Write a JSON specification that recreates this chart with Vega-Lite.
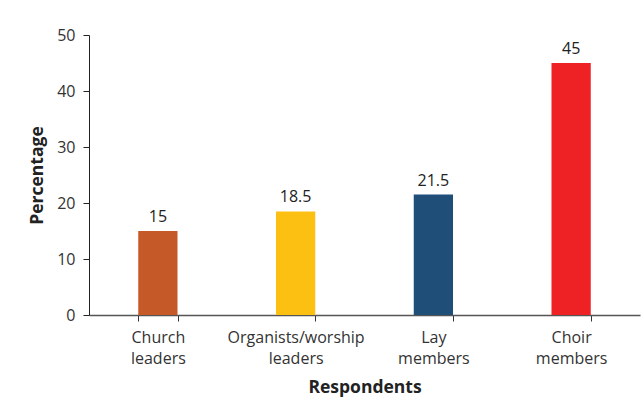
{
  "$schema": "https://vega.github.io/schema/vega-lite/v6.json",
  "width": 551,
  "height": 280,
  "autosize": {"type": "none"},
  "padding": {"left": 89, "top": 35, "right": 3, "bottom": 95},
  "background": "white",
  "config": {
    "view": {"stroke": null},
    "font": "Open Sans"
  },
  "data": {
    "values": [
      {"group": "Church leaders", "value": 15, "color": "#C55A28"},
      {"group": "Organists/worship leaders", "value": 18.5, "color": "#FCC012"},
      {"group": "Lay members", "value": 21.5, "color": "#1F4E79"},
      {"group": "Choir members", "value": 45, "color": "#EE2224"}
    ]
  },
  "encoding": {
    "x": {
      "field": "group",
      "type": "nominal",
      "sort": null,
      "scale": {"paddingInner": 0.715, "paddingOuter": 0.3575},
      "axis": {
        "title": "Respondents",
        "titleFont": "Open Sans",
        "titleFontSize": 17.5,
        "titleFontWeight": "bold",
        "titleColor": "#222222",
        "titlePadding": 12,
        "labelAngle": 0,
        "labelFontSize": 16,
        "labelColor": "#333333",
        "labelExpr": "datum.label == 'Church leaders' ? ['Church','leaders'] : datum.label == 'Organists/worship leaders' ? ['Organists/worship','leaders'] : datum.label == 'Lay members' ? ['Lay','members'] : datum.label == 'Choir members' ? ['Choir','members'] : ''",
        "labelLineHeight": 21,
        "labelPadding": 8,
        "domainColor": "#555555",
        "domainWidth": 1.5,
        "tickColor": "#333333",
        "tickBand": "extent",
        "tickSize": 6
      }
    },
    "y": {
      "field": "value",
      "type": "quantitative",
      "scale": {"domain": [0, 50]},
      "axis": {
        "title": "Percentage",
        "titleFont": "Open Sans",
        "titleFontSize": 17.5,
        "titleFontWeight": "bold",
        "titleColor": "#222222",
        "titlePadding": 10,
        "values": [0, 10, 20, 30, 40, 50],
        "grid": false,
        "labelFontSize": 16,
        "labelColor": "#333333",
        "labelPadding": 8,
        "domainColor": "#222222",
        "tickColor": "#222222",
        "tickSize": 6
      }
    }
  },
  "layer": [
    {
      "mark": {"type": "bar"},
      "encoding": {
        "color": {"field": "color", "type": "nominal", "scale": null}
      }
    },
    {
      "mark": {"type": "text", "baseline": "alphabetic", "dy": -9, "fontSize": 16, "color": "#222222"},
      "encoding": {"text": {"field": "value", "type": "quantitative"}}
    }
  ]
}
